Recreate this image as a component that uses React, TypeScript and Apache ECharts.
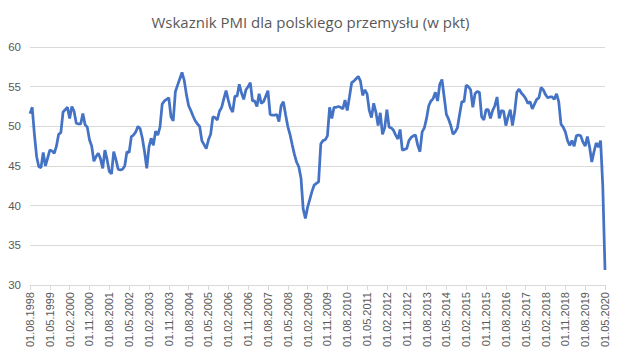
import React, { useEffect, useRef } from "react";
import * as echarts from "echarts";

// PMI values, monthly, from 08.1998 to 05.2020
const pmi1998_2001: number[] = [
  51.6, 52.4, 49.0, 46.2, 44.9, 44.8, 46.7, 45.0, 46.0, 47.0,
  46.9, 46.6, 47.5, 49.0, 49.2, 51.8, 52.1, 52.4, 51.0, 52.5,
  51.9, 50.4, 50.3, 50.3, 51.6, 50.2, 49.9, 48.3, 47.5, 45.6,
  46.2, 46.6, 45.9, 44.7, 47.0, 45.8, 44.3, 44.0, 46.8, 45.8,
  44.6, 44.5, 44.6, 45.0, 46.8, 46.7, 48.7, 48.9, 49.3, 50.0,
];
const pmi2002_2006: number[] = [
  49.7, 48.5, 46.8, 44.7, 47.4, 48.5, 47.6, 49.4, 48.9, 49.9,
  52.8, 53.2, 53.4, 53.6, 51.2, 50.7, 54.4, 55.2, 56.0, 56.8,
  55.8, 54.0, 52.6, 52.0, 51.3, 50.7, 50.3, 50.0, 48.2, 47.7,
  47.2, 48.3, 49.0, 51.2, 51.1, 50.8, 51.9, 52.4, 53.5, 54.5,
  53.3, 52.3, 51.8, 53.8, 53.8, 55.3, 54.2, 53.4, 54.6, 55.0,
];
const pmi2006_2010: number[] = [
  55.5, 53.2, 53.2, 52.5, 54.1, 52.9, 53.1, 53.8, 54.5, 51.5,
  51.4, 51.4, 51.5, 50.6, 52.6, 53.1, 51.5, 50.0, 49.0, 47.7,
  46.5, 45.5, 44.9, 43.5, 39.6, 38.4, 39.8, 40.8, 41.8, 42.6,
  42.8, 43.0, 47.8, 48.2, 48.3, 48.8, 52.4, 51.0, 52.4, 52.4,
  52.5, 52.4, 52.2, 53.3, 52.0, 53.7, 55.5, 55.7, 56.0, 56.3,
];
const pmi2011_2014: number[] = [
  55.7, 53.9, 54.6, 54.1, 52.0, 51.1, 52.9, 51.8, 50.1, 51.7,
  49.0, 49.8, 52.1, 49.9, 49.8, 49.5, 48.9, 48.4, 49.6, 47.0,
  47.1, 47.2, 48.2, 48.6, 48.8, 48.9, 47.6, 46.8, 49.3, 49.8,
  51.0, 52.6, 53.2, 53.5, 54.3, 53.2, 55.3, 55.9, 53.7, 51.5,
  50.9, 50.1, 49.0, 49.3, 49.8, 51.5, 53.1, 53.1, 55.2, 55.0,
];
const pmi2015_2020: number[] = [
  54.6, 52.4, 54.1, 54.4, 54.3, 51.2, 50.8, 52.1, 52.1, 51.0,
  52.0, 52.6, 53.7, 51.0, 52.0, 51.9, 50.1, 51.2, 52.1, 50.1,
  51.8, 54.3, 54.7, 54.2, 53.9, 53.5, 52.9, 53.1, 52.2, 52.8,
  53.4, 53.6, 54.9, 54.6, 54.0, 53.6, 53.7, 53.7, 53.4, 54.1,
  53.1, 50.3, 49.9, 49.3, 48.2, 47.6, 48.2, 47.5, 48.8, 48.9,
  48.8, 48.0, 47.5, 48.7, 47.4, 45.5, 46.8, 47.9, 47.4, 48.2,
  42.4, 31.9,
];

const pmiValues: number[] = [
  ...pmi1998_2001,
  ...pmi2002_2006,
  ...pmi2006_2010,
  ...pmi2011_2014,
  ...pmi2015_2020,
];

// Category labels: first day of each month starting 08.1998
const startYear = 1998;
const startMonth = 8;
const categories: string[] = pmiValues.map((_, i) => {
  const m0 = startMonth - 1 + i;
  const y = startYear + Math.floor(m0 / 12);
  const m = (m0 % 12) + 1;
  return `01.${m < 10 ? "0" + m : m}.${y}`;
});

const titleText = "Wskaznik PMI dla polskiego przemysłu (w pkt)";
const yMin = 30;
const yMax = 60;
const yStep = 5;
const labelEvery = 9;

export default function App() {
  const ref = useRef<HTMLDivElement>(null);
  useEffect(() => {
    if (!ref.current) return;
    const chart = echarts.init(ref.current, undefined, { renderer: "svg" });
    chart.setOption({
      animation: false,
      backgroundColor: "#ffffff",
      title: {
        text: titleText,
        left: "center",
        top: 9,
        textStyle: {
          fontFamily: "Open Sans",
          fontSize: 15,
          fontWeight: "normal",
          color: "#595959",
        },
      },
      grid: { left: 30, right: 16, top: 47, bottom: 67, containLabel: false },
      xAxis: {
        type: "category",
        data: categories,
        boundaryGap: false,
        axisLine: { lineStyle: { color: "#d9d9d9", width: 1 } },
        axisTick: {
          show: true,
          interval: labelEvery - 1,
          length: 5,
          lineStyle: { color: "#d9d9d9" },
        },
        axisLabel: {
          interval: labelEvery - 1,
          rotate: 90,
          margin: 7,
          color: "#595959",
          fontFamily: "Liberation Sans",
          fontSize: 11,
        },
        splitLine: { show: false },
      },
      yAxis: {
        type: "value",
        min: yMin,
        max: yMax,
        interval: yStep,
        axisLine: { show: false },
        axisTick: { show: false },
        axisLabel: {
          color: "#595959",
          fontFamily: "Liberation Sans",
          fontSize: 11.5,
          margin: 9,
        },
        splitLine: { lineStyle: { color: "#d9d9d9", width: 1 } },
      },
      series: [
        {
          type: "line",
          data: pmiValues,
          showSymbol: false,
          smooth: false,
          lineStyle: { color: "#4472C4", width: 2.75 },
          itemStyle: { color: "#4472C4" },
        },
      ],
    });
    return () => chart.dispose();
  }, []);
  return <div ref={ref} style={{ width: 621, height: 352, position: "absolute", left: 0, top: 0 }} />;
}
